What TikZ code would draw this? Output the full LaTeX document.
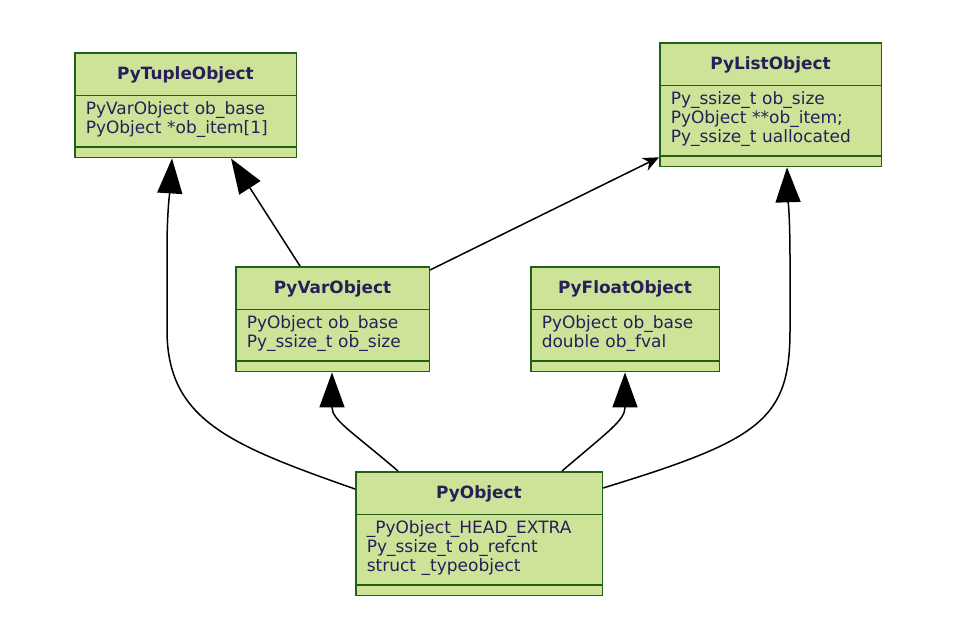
\documentclass[tikz,border=0pt]{standalone}
\usepackage{fontspec}
\setmainfont{DejaVu Sans}
\usepackage{tikz}
\usetikzlibrary{arrows.meta, positioning, shapes.multipart, calc}
\usepackage{xcolor}
\definecolor{ClassFill}{RGB}{205, 228, 152}
\definecolor{ClassBorder}{RGB}{35, 95, 25}
\definecolor{ClassText}{RGB}{40, 30, 90}
\newcommand{\memberfont}{\fontsize{17pt}{18.9pt}\selectfont}
\newcommand{\titlefont}{\fontsize{16.9pt}{18.9pt}\selectfont\bfseries}
\newcommand{\ctitle}[1]{\makebox[\linewidth][c]{\rule[-10.5pt]{0pt}{32pt}\titlefont #1}}
\newcommand{\members}[1]{\memberfont\rule{0pt}{14pt}#1\rule[-8.5pt]{0pt}{0pt}}
\tikzset{
  classbox/.style={rectangle split, rectangle split parts=3, draw=ClassBorder,
                   fill=ClassFill, line width=1.5pt, text width=#1,
                   inner xsep=11pt, inner ysep=4.5pt, align=left, text=ClassText,
                   font=\memberfont, anchor=north west},
  inherit/.style={-{Triangle[length=35pt, width=25pt]}, line width=1.5pt},
  assoc/.style={-{Stealth[length=16pt, width=14pt]}, line width=1.5pt},
}
\begin{document}
\begin{tikzpicture}[x=1pt, y=-1pt]
  \useasboundingbox (0,0) rectangle (966,624);

  \node[classbox=199.5pt] (tuple) at (74,52)
        {\ctitle{PyTupleObject}
         \nodepart{two}\members{PyVarObject ob\_base\\PyObject *ob\_item[1]}
         \nodepart{three}};
  \node[classbox=199.5pt] (list) at (659,42)
        {\ctitle{PyListObject}
         \nodepart{two}\members{Py\_ssize\_t ob\_size\\PyObject **ob\_item;\\Py\_ssize\_t uallocated}
         \nodepart{three}};
  \node[classbox=171.5pt] (var) at (235,266)
        {\ctitle{PyVarObject}
         \nodepart{two}\members{PyObject ob\_base\\Py\_ssize\_t ob\_size}
         \nodepart{three}};
  \node[classbox=166.5pt] (float) at (530,266)
        {\ctitle{PyFloatObject}
         \nodepart{two}\members{PyObject ob\_base\\double ob\_fval}
         \nodepart{three}};
  \node[classbox=224.5pt] (obj) at (355,471)
        {\ctitle{PyObject}
         \nodepart{two}\members{\_PyObject\_HEAD\_EXTRA\\Py\_ssize\_t ob\_refcnt\\struct \_typeobject}
         \nodepart{three}};

  % inheritance arrows
  \draw[inherit] ([yshift=-18pt]obj.north west)
        .. controls (230,445) and (167,420) .. (167,330) -- (167,250)
        .. controls (167,210) and (170,190) .. ([xshift=98pt]tuple.south west);
  \draw[inherit] ([xshift=65pt]var.north west) -- ([xshift=157pt]tuple.south west);
  \draw[inherit] ([xshift=43pt]obj.north west)
        .. controls (350,430) and (332,420) .. ([xshift=97pt]var.south west);
  \draw[inherit] ([xshift=207pt]obj.north west)
        .. controls (610,430) and (625,420) .. ([xshift=95pt]float.south west);
  \draw[inherit] ([yshift=-17pt]obj.north east)
        .. controls (760,440) and (790,420) .. (790,330) -- (790,260)
        .. controls (790,215) and (788,200) .. ([xshift=128pt]list.south west);

  \draw[assoc] ([yshift=-4pt]var.north east) -- ([yshift=10pt]list.south west);
\end{tikzpicture}
\end{document}
